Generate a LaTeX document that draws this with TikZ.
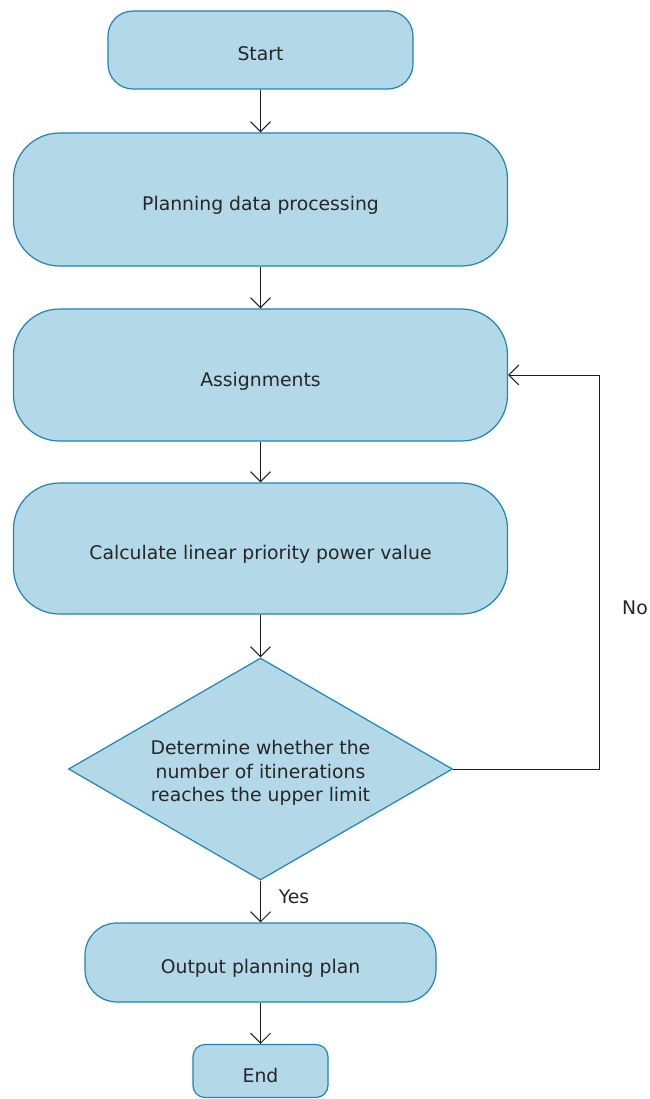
\documentclass[tikz,border=0pt]{standalone}
\usepackage{fontspec}
\setmainfont{DejaVu Sans}
\usetikzlibrary{shapes.geometric,arrows.meta}
\definecolor{boxfill}{RGB}{179,217,232}
\definecolor{boxline}{RGB}{28,132,182}
\definecolor{arrowcol}{RGB}{30,30,30}
\begin{document}
\begin{tikzpicture}[x=1pt,y=-1pt,
  txt/.style={font=\fontsize{18.8}{23.5}\selectfont, text=black!85},
  procbox/.style={txt, draw=boxline, fill=boxfill, line width=1.2pt, inner sep=0pt, align=center, text height=22pt, text depth=0pt},
  decbox/.style={txt, shape=diamond, draw=boxline, fill=boxfill, line width=1.2pt, inner sep=0pt, align=center, minimum width=384pt, minimum height=222pt, shape aspect=1.73},
  flow/.style={draw=arrowcol, line width=1pt, -{Straight Barb[length=10pt,width=20pt,line width=1pt]}},
  lbl/.style={txt, inner sep=0pt}
]
\useasboundingbox (0,0) rectangle (649,1099);

\node[procbox, minimum width=305pt, minimum height=78pt, rounded corners=25pt] (start) at (260.5,50) {Start};
\node[procbox, minimum width=494pt, minimum height=133pt, rounded corners=46pt] (plan) at (260.5,199.5) {Planning data processing};
\node[procbox, minimum width=494pt, minimum height=132pt, rounded corners=46pt] (assign) at (260.5,375) {Assignments};
\node[procbox, minimum width=494pt, minimum height=131pt, rounded corners=46pt] (calc) at (260.5,548.5) {Calculate linear priority power value};
\node[decbox] (dec) at (260.5,769) {\rule{0pt}{22.5pt}Determine whether the\\number of itinerations\\reaches the upper limit};
\node[procbox, minimum width=351pt, minimum height=79pt, rounded corners=32pt] (out) at (260.5,962.5) {Output planning plan};
\node[procbox, minimum width=135pt, minimum height=53pt, rounded corners=12pt] (end) at (260.5,1071) {End};

\coordinate (loopA) at (599,769);
\coordinate (loopB) at (599,375);

\draw[flow] (start.south) -- (plan.north);
\draw[flow] (plan.south) -- (assign.north);
\draw[flow] (assign.south) -- (calc.north);
\draw[flow] (calc.south) -- (dec.north);
\draw[flow] (dec.south) -- (out.north);
\draw[flow] (out.south) -- (end.north);
\draw[flow] (dec.east) -- (loopA) -- (loopB) -- (assign.east);

\node[lbl] (no) at (635,608) {No};
\node[lbl] (yes) at (294,897) {Yes};
\end{tikzpicture}
\end{document}
